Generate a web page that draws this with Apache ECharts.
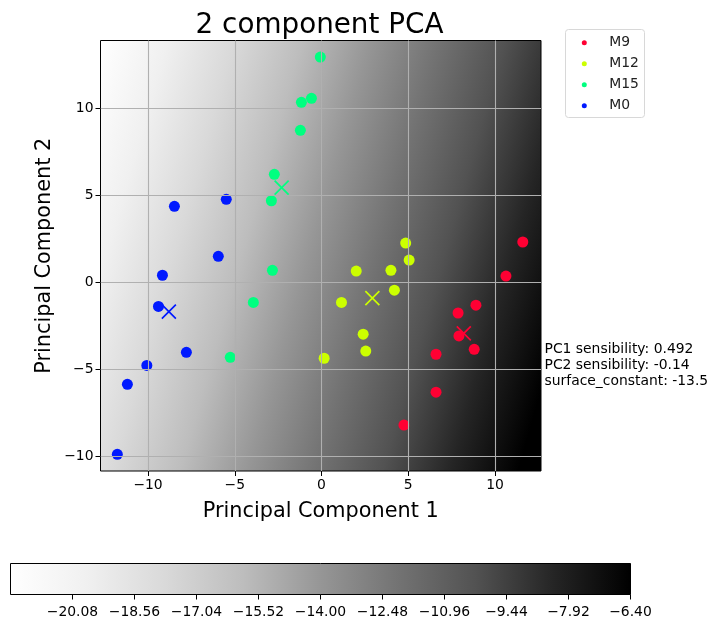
<!DOCTYPE html>
<html><head><meta charset="utf-8">
<style>html,body{margin:0;padding:0;background:#fff}#c{width:717px;height:628px}</style>
<script src="https://cdn.jsdelivr.net/npm/echarts@6/dist/echarts.min.js"></script>
</head><body><div id="c"></div>
<script>
const groupNames = ['M9','M12','M15','M0'];
const groupColors = ['#ff0033','#ccff00','#00ff80','#0019ff'];
const m9 = [[11.6,2.3],[10.63,0.34],[8.9,-1.33],[7.87,-1.78],[7.92,-3.1],[8.8,-3.87],[6.6,-4.15],[6.6,-6.33],[4.75,-8.22]];
const m12 = [[4.85,2.24],[5.05,1.26],[4.0,0.67],[2.0,0.63],[4.2,-0.47],[1.15,-1.17],[2.4,-3.0],[2.55,-3.97],[0.15,-4.38]];
const m15 = [[-0.07,12.93],[-0.58,10.56],[-1.16,10.33],[-1.22,8.72],[-2.72,6.19],[-2.89,4.67],[-2.83,0.67],[-3.93,-1.17],[-5.26,-4.33]];
const m0 = [[-8.48,4.35],[-5.49,4.75],[-5.95,1.48],[-9.17,0.39],[-9.4,-1.4],[-7.79,-4.04],[-10.07,-4.79],[-11.19,-5.88],[-11.77,-9.9]];
const centroids = [[8.2,-2.95],[2.93,-0.93],[-2.3,5.42],[-8.8,-1.7]];
const xTicks = [-10,-5,0,5,10];
const yTicks = [-10,-5,0,5,10];
const barTicks = [-20.08,-18.56,-17.04,-15.52,-14.00,-12.48,-10.96,-9.44,-7.92,-6.40];
const annotation = ['PC1 sensibility: 0.492','PC2 sensibility: -0.14','surface_constant: -13.5'];
const greys = ['#ffffff','#f0f0f0','#d9d9d9','#bdbdbd','#969696','#737373','#525252','#252525','#000000'];

const FONT = '"DejaVu Sans"';
const minus = s => String(s).replace('-', '\u2212');
const groups = [m9, m12, m15, m0];
const crossPath = 'path://M0 0L10 10M10 0L0 10';
const stops = greys.map((color, i) => ({offset: i / (greys.length - 1), color}));

const series = [];
groups.forEach((g, i) => {
  series.push({
    name: groupNames[i], type: 'scatter', data: g, xAxisIndex: 0, yAxisIndex: 0,
    symbol: 'circle', symbolSize: 11, z: 2,
    itemStyle: {color: groupColors[i], opacity: 1}
  });
});
centroids.forEach((c, i) => {
  series.push({
    name: groupNames[i] + ' centroid', type: 'scatter', data: [c], xAxisIndex: 0, yAxisIndex: 0,
    symbol: crossPath, symbolSize: 14, z: 2,
    itemStyle: {color: 'none', borderColor: groupColors[i], borderWidth: 1.7, opacity: 1}
  });
});
series.push({type: 'scatter', data: [], xAxisIndex: 1, yAxisIndex: 1});

const chart = echarts.init(document.getElementById('c'), null, {renderer: 'canvas'});
chart.setOption({
  animation: false,
  backgroundColor: '#fff',
  textStyle: {fontFamily: FONT},
  title: {
    text: '2 component PCA', left: 314.5, top: 7, textAlign: 'center',
    textStyle: {fontFamily: FONT, fontSize: 27.8, fontWeight: 'normal', color: '#000'}
  },
  legend: {
    data: groupNames.map(n => ({name: n, icon: 'circle'})),
    orient: 'vertical', left: 581.8, top: 35.7, itemWidth: 40, itemHeight: 5, itemGap: 7,
    padding: 0, selectedMode: false, z: 6,
    textStyle: {fontFamily: FONT, fontSize: 13.9, color: '#222'}
  },
  grid: [
    {left: 100.5, top: 40.5, width: 440.5, height: 430.5, show: true, borderColor: '#000', borderWidth: 1,
     backgroundColor: new echarts.graphic.LinearGradient(0, 0, 1.133, 0.329, stops)},
    {left: 10.5, top: 563.5, width: 620, height: 31, show: true, borderColor: '#000', borderWidth: 1,
     backgroundColor: new echarts.graphic.LinearGradient(0, 0, 1, 0, stops)}
  ],
  xAxis: [
    {type: 'value', gridIndex: 0, min: -12.74, max: 12.65, z: 5,
     name: 'Principal Component 1', nameLocation: 'middle', nameGap: 30, nameMoveOverlap: false,
     nameTextStyle: {fontFamily: FONT, fontSize: 20.8, color: '#000'},
     axisLine: {show: false, onZero: false},
     axisTick: {show: true, length: 5, customValues: xTicks, lineStyle: {color: '#000', width: 1}},
     axisLabel: {customValues: xTicks, margin: 7, fontFamily: FONT, fontSize: 13.9, color: '#000', formatter: minus},
     splitLine: {show: true, lineStyle: {color: '#b0b0b0', width: 1.1}}},
    {type: 'value', gridIndex: 1, min: -21.6, max: -6.4, position: 'bottom',
     axisLine: {show: false, onZero: false},
     axisTick: {show: true, length: 5, customValues: barTicks, lineStyle: {color: '#000', width: 1}},
     axisLabel: {customValues: barTicks, margin: 10.5, fontFamily: FONT, fontSize: 13.9, color: '#000', showMinLabel: true, showMaxLabel: true,
       formatter: v => minus(v.toFixed(2))},
     splitLine: {show: false}}
  ],
  yAxis: [
    {type: 'value', gridIndex: 0, min: -10.86, max: 13.88, z: 5,
     name: 'Principal Component 2', nameLocation: 'middle', nameGap: 45, nameMoveOverlap: false,
     nameTextStyle: {fontFamily: FONT, fontSize: 20.8, color: '#000'},
     axisLine: {show: false, onZero: false},
     axisTick: {show: true, length: 5, customValues: yTicks, lineStyle: {color: '#000', width: 1}},
     axisLabel: {customValues: yTicks, margin: 7, fontFamily: FONT, fontSize: 13.9, color: '#000', formatter: minus},
     splitLine: {show: true, lineStyle: {color: '#b0b0b0', width: 1.1}}},
    {type: 'value', gridIndex: 1, min: 0, max: 1, show: false}
  ],
  graphic: [
    {type: 'rect', z: 1, shape: {x: 565.5, y: 29.5, width: 79, height: 88, r: 3},
     style: {fill: '#fff', stroke: '#d8d8d8', lineWidth: 1}},
    {type: 'text', left: 544.5, top: 341,
     style: {text: annotation.join('\n'), fontFamily: FONT, fontSize: 13.9, lineHeight: 16, fill: '#000'}}
  ],
  series
});
</script></body></html>
